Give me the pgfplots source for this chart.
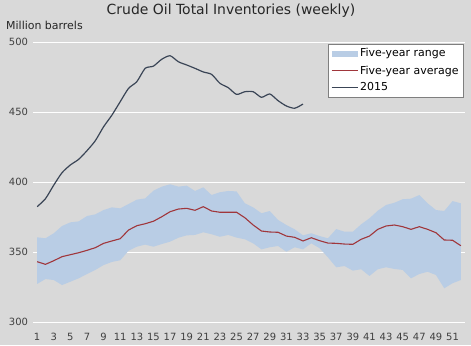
\documentclass[border=0pt]{standalone}
\usepackage{fontspec}
\setmainfont{DejaVu Sans}
\usepackage{pgfplots}
\pgfplotsset{compat=1.18}
\usepackage{pgfplotstable}
\usepgfplotslibrary{fillbetween}
\definecolor{bg}{HTML}{D9D9D9}
\definecolor{band}{HTML}{B9CDE5}
\definecolor{avgred}{HTML}{A0363B}
\definecolor{line15}{HTML}{3A4556}
\definecolor{ticktxt}{HTML}{404040}
\definecolor{legbord}{HTML}{7F7F7F}
\pagecolor{bg}

\pgfplotstableread{
week low high avg
1 327.4 360.7 343.3
2 330.9 360.0 341.4
3 330.2 363.6 344.0
4 326.6 368.8 346.9
5 329.0 371.4 348.3
6 331.4 372.1 349.7
7 334.5 375.9 351.4
8 337.4 377.1 353.3
9 340.9 380.2 356.4
10 343.1 382.1 358.1
11 344.3 381.4 359.7
12 351.1 384.5 365.9
13 354.0 387.6 369.0
14 355.5 388.5 370.4
15 354.0 394.0 372.2
16 355.9 396.9 375.4
17 357.6 398.6 379.0
18 360.4 396.9 380.9
19 362.1 397.6 381.4
20 362.4 393.8 380.0
21 364.3 396.4 382.6
22 362.9 390.9 379.5
23 361.1 392.9 378.6
24 362.4 393.8 378.6
25 360.5 393.5 378.6
26 359.3 385.0 374.7
27 356.4 382.1 369.5
28 352.1 377.9 365.2
29 353.6 379.5 364.5
30 354.5 373.1 364.3
31 350.4 369.5 361.6
32 353.6 366.4 360.7
33 352.1 362.1 358.1
34 356.4 363.6 360.4
35 352.9 361.6 358.3
36 346.4 360.0 356.6
37 339.3 366.6 356.4
38 340.2 364.7 355.9
39 336.9 364.7 355.7
40 337.9 370.0 359.3
41 333.1 374.3 361.6
42 337.9 379.7 366.4
43 339.3 383.8 368.8
44 338.1 385.4 369.5
45 337.4 387.9 368.3
46 331.4 388.3 366.4
47 334.5 390.9 368.3
48 336.1 385.0 366.4
49 333.8 380.2 364.0
50 324.3 379.5 358.8
51 327.9 386.6 358.6
52 330.2 385.0 354.7
}\fiveyr

\pgfplotstableread{
week val
1 382.6
2 388.3
3 398.0
4 406.9
5 412.4
6 416.4
7 422.6
8 429.7
9 439.7
10 448.0
11 457.6
12 467.1
13 471.9
14 481.4
15 483.0
16 487.9
17 490.4
18 486.1
19 483.8
20 481.4
21 478.8
22 477.1
23 470.7
24 467.6
25 462.8
26 464.7
27 464.7
28 460.7
29 463.1
30 458.3
31 454.5
32 452.9
33 455.9
}\yrfifteen

\begin{document}
\begin{tikzpicture}[x=1bp,y=1bp]
\path (-33,-22.7) rectangle (438,322.3);
\begin{axis}[
  scale only axis, width=432bp, height=280bp,
  at={(0,0)}, anchor=south west,
  xmin=0.5, xmax=52.5, ymin=300, ymax=500,
  axis line style={draw=none},
  major tick length=0pt,
  xtick={1,3,...,51},
  ytick={300,350,400,450,500},
  ymajorgrids,
  grid style={white, line width=0.9bp},
  tick label style={font=\fontsize{10}{12}\selectfont, text=ticktxt},
  /pgf/number format/assume math mode=true,
  xticklabel style={yshift=-7bp},
  yticklabel style={xshift=-1.5bp},
  legend cell align=left,
  legend style={at={(0.997,0.994)}, anchor=north east, fill=white, draw=legbord,
    font=\fontsize{11}{13}\selectfont, text=black, inner xsep=3bp, inner ysep=2.5bp,
    row sep=3.2bp},
  legend image code/.code={\draw[#1] (0bp,0bp) -- (26bp,0bp);},
]
\addplot[name path=top, draw=none, forget plot] table[x=week, y=high] {\fiveyr};
\addplot[name path=bot, draw=none, forget plot] table[x=week, y=low] {\fiveyr};
\addplot[band, fill=band, draw=none,
  legend image code/.code={\fill[band] (0bp,-3bp) rectangle (26bp,3bp);}]
  fill between[of=top and bot];
\addlegendentry{Five-year range}
\addplot[avgred, line width=1.1bp, mark=none] table[x=week, y=avg] {\fiveyr};
\addlegendentry{Five-year average}
\addplot[line15, line width=1.2bp, mark=none, smooth, tension=0.4] table[x=week, y=val] {\yrfifteen};
\addlegendentry{2015}
\end{axis}
\node[font=\fontsize{14}{16}\selectfont, text=black!85] at (198,311.3) {Crude Oil Total Inventories (weekly)};
\node[anchor=west, font=\fontsize{11}{13}\selectfont, text=black!85, inner sep=0pt] at (-27,297.3) {Million barrels};
\end{tikzpicture}
\end{document}
